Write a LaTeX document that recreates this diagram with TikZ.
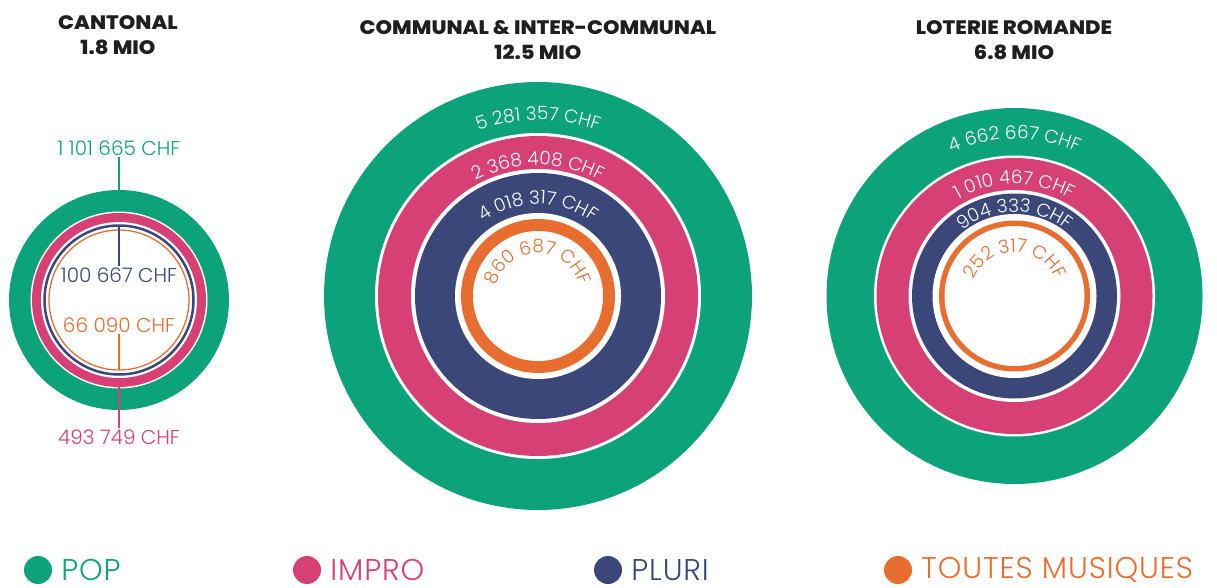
\documentclass[tikz,border=0pt]{standalone}
\usepackage{fontspec}
\usetikzlibrary{positioning,decorations.text}
\IfFontExistsTF{Poppins Light}{\newfontfamily\lightfont{Poppins Light}}{\newfontfamily\lightfont{Poppins}}
\IfFontExistsTF{Poppins Light}{\newfontfamily\legfont{Poppins Light}[LetterSpace=3]}{\newfontfamily\legfont{Poppins}[LetterSpace=3]}
\IfFontExistsTF{Poppins ExtraBold}{\newfontfamily\titlefont{Poppins ExtraBold}[FakeStretch=1.08]}{\newfontfamily\titlefont{Poppins Bold}[FakeStretch=1.08]}
\definecolor{popc}{RGB}{12,163,122}
\definecolor{improc}{RGB}{214,64,116}
\definecolor{pluric}{RGB}{59,71,120}
\definecolor{toutesc}{RGB}{232,110,48}
\newcommand{\amt}{\lightfont\fontsize{18.5}{18.5}\selectfont}
\tikzset{
  heading/.style={font=\titlefont\fontsize{19.5}{24.5}\selectfont, align=center, text=black!88},
  amount/.style={font=\lightfont\fontsize{20}{20}\selectfont, inner sep=1pt},
  legdot/.style={circle, minimum size=28pt, inner sep=0pt},
  legtext/.style={font=\legfont\fontsize{30}{30}\selectfont, inner sep=0pt},
  feeder/.style={line width=1.2pt},
}
\begin{document}
\begin{tikzpicture}[x=1pt,y=1pt]
\useasboundingbox (0,0) rectangle (1217,-588);
% headings
\node[heading] (hcant) at (118,-35) {CANTONAL\\1.8 MIO};
\node[heading] (hcomm) at (538,-40) {COMMUNAL \& INTER-COMMUNAL\\12.5 MIO};
\node[heading] (hloro) at (1014,-40) {LOTERIE ROMANDE\\6.8 MIO};
%%%% cantonal
\coordinate (cant) at (119,-300);
\fill[popc] (cant) circle[radius=110];
\fill[white] (cant) circle[radius=88.5];
\fill[improc] (cant) circle[radius=87];
\fill[white] (cant) circle[radius=78];
\draw[pluric, line width=2.5pt] (cant) circle[radius=74.5];
\draw[toutesc, line width=1.3pt] (cant) circle[radius=70];
\node[amount, text=popc] (cpop) at (119,-148) {1 101 665 CHF};
\coordinate (cpoptop) at (119,-190);
\draw[popc, feeder] (cpop.south) -- (cpoptop);
\node[amount, text=pluric] (cpluri) at (119,-275) {100 667 CHF};
\coordinate (cpluritop) at (119,-226);
\draw[pluric, feeder] (cpluritop) -- (cpluri.north);
\node[amount, text=toutesc] (ctoutes) at (119,-325) {66 090 CHF};
\coordinate (ctoutesbot) at (119,-370);
\draw[toutesc, feeder] (ctoutes.south) -- (ctoutesbot);
\node[amount, text=improc] (cimpro) at (119,-437) {493 749 CHF};
\coordinate (cimprobot) at (119,-382);
\draw[improc, feeder] (cimprobot) -- (cimpro.north);
%%%% communal
\coordinate (comm) at (538,-296);
\fill[popc] (comm) circle[radius=214];
\fill[white] (comm) circle[radius=163];
\fill[improc] (comm) circle[radius=160];
\fill[white] (comm) circle[radius=127];
\fill[pluric] (comm) circle[radius=123];
\fill[white] (comm) circle[radius=83];
\fill[toutesc] (comm) circle[radius=77];
\fill[white] (comm) circle[radius=65];
\path[shift={(comm)}, decorate, decoration={text along path, text align=center, text={|\amt\color{white}|5 281 357 CHF}}] (150:176) arc[start angle=150, end angle=30, radius=176];
\path[shift={(comm)}, decorate, decoration={text along path, text align=center, text={|\amt\color{white}|2 368 408 CHF}}] (160:131) arc[start angle=160, end angle=20, radius=131];
\path[shift={(comm)}, decorate, decoration={text along path, text align=center, text={|\amt\color{white}|4 018 317 CHF}}] (170:92) arc[start angle=170, end angle=10, radius=92];
\path[shift={(comm)}, decorate, decoration={text along path, text align=center, text={|\amt\color{toutesc}|860 687 CHF}}] (178:43) arc[start angle=178, end angle=2, radius=43];
%%%% loterie
\coordinate (loro) at (1014.5,-296);
\fill[popc] (loro) circle[radius=188];
\fill[white] (loro) circle[radius=140.5];
\fill[improc] (loro) circle[radius=138];
\fill[white] (loro) circle[radius=106];
\fill[pluric] (loro) circle[radius=102.5];
\fill[white] (loro) circle[radius=82];
\fill[toutesc] (loro) circle[radius=75.5];
\fill[white] (loro) circle[radius=70];
\path[shift={(loro)}, decorate, decoration={text along path, text align=center, text={|\amt\color{white}|4 662 667 CHF}}] (150:157) arc[start angle=150, end angle=30, radius=157];
\path[shift={(loro)}, decorate, decoration={text along path, text align=center, text={|\amt\color{white}|1 010 467 CHF}}] (165:112) arc[start angle=165, end angle=15, radius=112];
\path[shift={(loro)}, decorate, decoration={text along path, text align=center, text={|\amt\color{white}|904 333 CHF}}] (175:84) arc[start angle=175, end angle=5, radius=84];
\path[shift={(loro)}, decorate, decoration={text along path, text align=center, text={|\amt\color{toutesc}|252 317 CHF}}] (178:44) arc[start angle=178, end angle=2, radius=44];
%%%% legend
\node[legdot, fill=popc] (lpop) at (38,-570) {};
\node[legtext, text=popc, right=9pt of lpop] (tpop) {POP};
\node[legdot, fill=improc] (limpro) at (307,-570) {};
\node[legtext, text=improc, right=9pt of limpro] (timpro) {IMPRO};
\node[legdot, fill=pluric] (lpluri) at (608,-570) {};
\node[legtext, text=pluric, right=9pt of lpluri] (tpluri) {PLURI};
\node[legdot, fill=toutesc] (ltoutes) at (898,-570) {};
\node[legtext, text=toutesc, right=9pt of ltoutes] (ttoutes) {TOUTES MUSIQUES};
\end{tikzpicture}
\end{document}
